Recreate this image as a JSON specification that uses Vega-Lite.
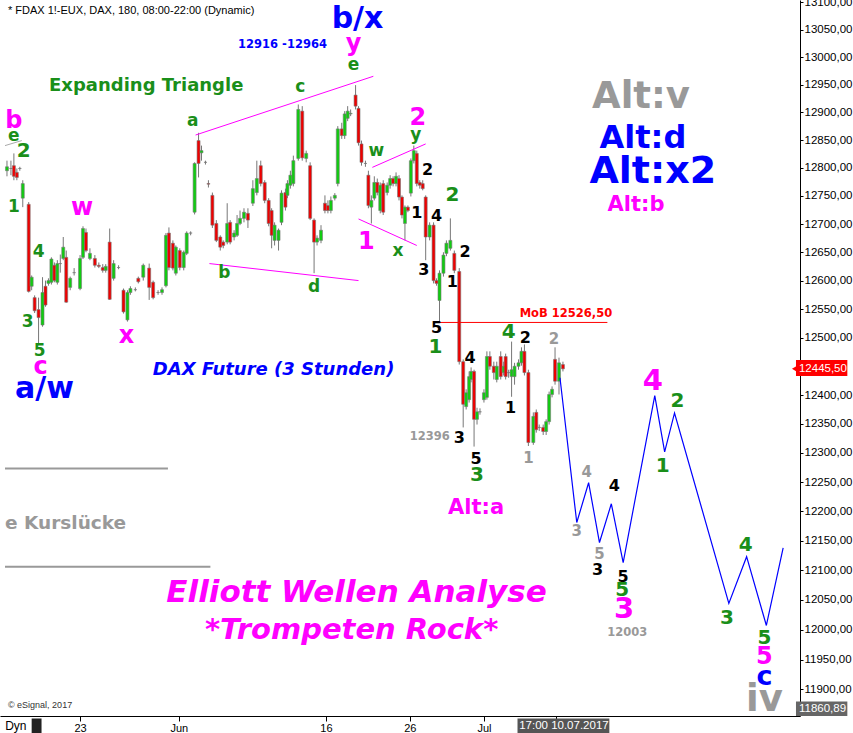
{
"$schema": "https://vega.github.io/schema/vega-lite/v6.json",
"width": 800, "height": 716,
"autosize": {"type": "none"},
"padding": {"left": 0, "top": 0, "right": 53, "bottom": 17},
"background": "white",
"config": {"view": {"stroke": null}},
"resolve": {"axis": {"y": "independent"}},
"datasets": {
"candles": [
{"t":2,"o":12795,"h":12813,"l":12785,"c":12802},{"t":6,"o":12799,"h":12813,"l":12787,"c":12799},{"t":9,"o":12804,"h":12826,"l":12778,"c":12785},{"t":12,"o":12792,"h":12799,"l":12778,"c":12783},{"t":15,"o":12799,"h":12802,"l":12795,"c":12799},{"t":18,"o":12746,"h":12778,"l":12730,"c":12772},{"t":24,"o":12735,"h":12739,"l":12579,"c":12581},{"t":27,"o":12590,"h":12609,"l":12583,"c":12606},{"t":30,"o":12570,"h":12574,"l":12543,"c":12547},{"t":34,"o":12549,"h":12570,"l":12488,"c":12535},
{"t":38,"o":12522,"h":12606,"l":12519,"c":12579},{"t":41,"o":12590,"h":12600,"l":12554,"c":12557},{"t":44,"o":12595,"h":12604,"l":12591,"c":12600},{"t":47,"o":12597,"h":12641,"l":12593,"c":12638},{"t":50,"o":12627,"h":12632,"l":12597,"c":12600},{"t":53,"o":12597,"h":12636,"l":12593,"c":12630},{"t":56,"o":12630,"h":12646,"l":12614,"c":12630},{"t":59,"o":12639,"h":12677,"l":12636,"c":12659},{"t":62,"o":12641,"h":12653,"l":12561,"c":12562},{"t":66,"o":12588,"h":12607,"l":12583,"c":12604},
{"t":70,"o":12614,"h":12622,"l":12609,"c":12614},{"t":76,"o":12586,"h":12645,"l":12583,"c":12639},{"t":79,"o":12641,"h":12696,"l":12638,"c":12692},{"t":82,"o":12685,"h":12692,"l":12650,"c":12653},{"t":86,"o":12639,"h":12657,"l":12636,"c":12648},{"t":91,"o":12639,"h":12645,"l":12623,"c":12627},{"t":95,"o":12627,"h":12632,"l":12622,"c":12625},{"t":99,"o":12623,"h":12629,"l":12614,"c":12618},{"t":102,"o":12618,"h":12629,"l":12614,"c":12625},{"t":106,"o":12668,"h":12692,"l":12566,"c":12567},
{"t":110,"o":12604,"h":12636,"l":12600,"c":12630},{"t":115,"o":12623,"h":12627,"l":12620,"c":12623},{"t":120,"o":12583,"h":12586,"l":12542,"c":12545},{"t":124,"o":12531,"h":12583,"l":12528,"c":12579},{"t":127,"o":12579,"h":12590,"l":12575,"c":12586},{"t":132,"o":12584,"h":12588,"l":12581,"c":12584},{"t":135,"o":12604,"h":12607,"l":12595,"c":12598},{"t":140,"o":12606,"h":12630,"l":12600,"c":12627},{"t":146,"o":12622,"h":12630,"l":12566,"c":12588},{"t":150,"o":12597,"h":12600,"l":12567,"c":12570},
{"t":155,"o":12579,"h":12583,"l":12575,"c":12579},{"t":159,"o":12579,"h":12588,"l":12575,"c":12584},{"t":163,"o":12591,"h":12684,"l":12588,"c":12680},{"t":166,"o":12684,"h":12694,"l":12618,"c":12623},{"t":170,"o":12666,"h":12671,"l":12618,"c":12622},{"t":173,"o":12613,"h":12662,"l":12609,"c":12659},{"t":177,"o":12653,"h":12657,"l":12618,"c":12623},{"t":181,"o":12623,"h":12653,"l":12618,"c":12650},{"t":184,"o":12648,"h":12687,"l":12645,"c":12684},{"t":188,"o":12684,"h":12687,"l":12680,"c":12684},
{"t":192,"o":12721,"h":12810,"l":12717,"c":12808},{"t":196,"o":12849,"h":12863,"l":12783,"c":12808},{"t":199,"o":12827,"h":12840,"l":12813,"c":12831},{"t":203,"o":12810,"h":12813,"l":12806,"c":12810},{"t":206,"o":12772,"h":12778,"l":12765,"c":12771},{"t":210,"o":12751,"h":12756,"l":12693,"c":12698},{"t":214,"o":12701,"h":12707,"l":12668,"c":12671},{"t":218,"o":12677,"h":12680,"l":12653,"c":12659},{"t":221,"o":12668,"h":12671,"l":12657,"c":12662},{"t":225,"o":12668,"h":12737,"l":12664,"c":12701},
{"t":228,"o":12703,"h":12707,"l":12664,"c":12668},{"t":232,"o":12677,"h":12689,"l":12671,"c":12684},{"t":235,"o":12680,"h":12716,"l":12677,"c":12701},{"t":238,"o":12701,"h":12724,"l":12698,"c":12710},{"t":242,"o":12710,"h":12728,"l":12703,"c":12721},{"t":246,"o":12719,"h":12728,"l":12693,"c":12707},{"t":251,"o":12737,"h":12778,"l":12732,"c":12763},{"t":255,"o":12756,"h":12813,"l":12751,"c":12781},{"t":259,"o":12804,"h":12813,"l":12767,"c":12772},{"t":263,"o":12774,"h":12778,"l":12737,"c":12742},
{"t":267,"o":12742,"h":12746,"l":12696,"c":12701},{"t":270,"o":12724,"h":12728,"l":12657,"c":12680},{"t":273,"o":12671,"h":12703,"l":12662,"c":12698},{"t":277,"o":12671,"h":12692,"l":12653,"c":12689},{"t":280,"o":12703,"h":12760,"l":12698,"c":12755},{"t":284,"o":12756,"h":12763,"l":12724,"c":12730},{"t":286,"o":12751,"h":12778,"l":12746,"c":12772},{"t":289,"o":12769,"h":12795,"l":12763,"c":12787},{"t":292,"o":12772,"h":12822,"l":12767,"c":12813},{"t":297,"o":12817,"h":12914,"l":12813,"c":12905},
{"t":301,"o":12902,"h":12911,"l":12813,"c":12818},{"t":305,"o":12817,"h":12831,"l":12810,"c":12826},{"t":309,"o":12804,"h":12810,"l":12707,"c":12710},{"t":313,"o":12707,"h":12710,"l":12613,"c":12668},{"t":316,"o":12668,"h":12680,"l":12662,"c":12675},{"t":320,"o":12671,"h":12698,"l":12666,"c":12689},{"t":324,"o":12737,"h":12751,"l":12719,"c":12724},{"t":327,"o":12733,"h":12742,"l":12719,"c":12724},{"t":330,"o":12724,"h":12749,"l":12719,"c":12742},{"t":334,"o":12746,"h":12755,"l":12742,"c":12751},
{"t":337,"o":12772,"h":12875,"l":12767,"c":12870},{"t":341,"o":12870,"h":12881,"l":12852,"c":12858},{"t":344,"o":12858,"h":12902,"l":12852,"c":12897},{"t":347,"o":12889,"h":12911,"l":12884,"c":12902},{"t":350,"o":12897,"h":12905,"l":12893,"c":12898},{"t":355,"o":12931,"h":12949,"l":12905,"c":12911},{"t":358,"o":12907,"h":12911,"l":12840,"c":12845},{"t":361,"o":12843,"h":12849,"l":12804,"c":12810},{"t":365,"o":12808,"h":12813,"l":12802,"c":12808},{"t":368,"o":12787,"h":12795,"l":12728,"c":12733},
{"t":371,"o":12730,"h":12751,"l":12701,"c":12742},{"t":374,"o":12746,"h":12785,"l":12742,"c":12774},{"t":377,"o":12774,"h":12781,"l":12751,"c":12756},{"t":380,"o":12724,"h":12774,"l":12719,"c":12769},{"t":383,"o":12772,"h":12778,"l":12716,"c":12721},{"t":387,"o":12756,"h":12774,"l":12751,"c":12769},{"t":390,"o":12769,"h":12787,"l":12763,"c":12781},{"t":393,"o":12781,"h":12785,"l":12767,"c":12772},{"t":396,"o":12772,"h":12792,"l":12767,"c":12785},{"t":399,"o":12781,"h":12787,"l":12742,"c":12748},
{"t":402,"o":12748,"h":12751,"l":12710,"c":12716},{"t":405,"o":12701,"h":12733,"l":12671,"c":12730},{"t":408,"o":12730,"h":12733,"l":12721,"c":12724},{"t":411,"o":12755,"h":12817,"l":12749,"c":12813},{"t":414,"o":12813,"h":12840,"l":12808,"c":12831},{"t":417,"o":12826,"h":12831,"l":12767,"c":12772},{"t":420,"o":12774,"h":12778,"l":12763,"c":12769},{"t":423,"o":12772,"h":12778,"l":12760,"c":12763},{"t":426,"o":12748,"h":12751,"l":12636,"c":12677},{"t":430,"o":12677,"h":12703,"l":12671,"c":12698},
{"t":434,"o":12698,"h":12703,"l":12595,"c":12600},{"t":437,"o":12600,"h":12604,"l":12591,"c":12595},{"t":440,"o":12565,"h":12618,"l":12528,"c":12613},{"t":444,"o":12613,"h":12650,"l":12607,"c":12645},{"t":447,"o":12648,"h":12671,"l":12643,"c":12666},{"t":451,"o":12657,"h":12710,"l":12653,"c":12671},{"t":455,"o":12648,"h":12653,"l":12613,"c":12618},{"t":460,"o":12616,"h":12622,"l":12453,"c":12458},{"t":464,"o":12458,"h":12462,"l":12344,"c":12384},{"t":467,"o":12380,"h":12410,"l":12375,"c":12404},
{"t":470,"o":12392,"h":12441,"l":12387,"c":12432},{"t":472,"o":12427,"h":12448,"l":12422,"c":12441},{"t":475,"o":12441,"h":12444,"l":12311,"c":12358},{"t":478,"o":12358,"h":12378,"l":12349,"c":12371},{"t":481,"o":12371,"h":12377,"l":12366,"c":12371},{"t":485,"o":12392,"h":12410,"l":12387,"c":12404},{"t":488,"o":12396,"h":12476,"l":12392,"c":12467},{"t":491,"o":12467,"h":12476,"l":12444,"c":12450},{"t":495,"o":12450,"h":12458,"l":12427,"c":12439},{"t":498,"o":12427,"h":12458,"l":12422,"c":12450},
{"t":502,"o":12467,"h":12476,"l":12427,"c":12432},{"t":505,"o":12439,"h":12458,"l":12434,"c":12450},{"t":507,"o":12467,"h":12472,"l":12427,"c":12432},{"t":510,"o":12439,"h":12444,"l":12430,"c":12439},{"t":513,"o":12432,"h":12493,"l":12397,"c":12444},{"t":516,"o":12432,"h":12456,"l":12418,"c":12450},{"t":520,"o":12450,"h":12462,"l":12444,"c":12456},{"t":523,"o":12456,"h":12483,"l":12451,"c":12476},{"t":526,"o":12476,"h":12488,"l":12434,"c":12439},{"t":530,"o":12439,"h":12444,"l":12312,"c":12318},
{"t":535,"o":12318,"h":12370,"l":12314,"c":12363},{"t":538,"o":12370,"h":12375,"l":12335,"c":12340},{"t":541,"o":12344,"h":12349,"l":12338,"c":12344},{"t":545,"o":12344,"h":12349,"l":12331,"c":12337},{"t":548,"o":12337,"h":12358,"l":12331,"c":12354},{"t":551,"o":12354,"h":12406,"l":12349,"c":12401},{"t":554,"o":12401,"h":12415,"l":12396,"c":12410},{"t":557,"o":12462,"h":12483,"l":12418,"c":12424},{"t":561,"o":12424,"h":12465,"l":12401,"c":12456},{"t":565,"o":12453,"h":12458,"l":12441,"c":12445.5}
],
"proj": [{"t":562,"p":12430},{"t":579,"p":12181},{"t":591,"p":12249},{"t":602,"p":12147},{"t":614,"p":12213},{"t":626,"p":12113},{"t":658,"p":12399},{"t":668,"p":12302},{"t":678,"p":12369},{"t":733,"p":12044},{"t":751,"p":12123},{"t":771,"p":12007},{"t":788,"p":12138}],
"pink": [{"t":193,"t2":373,"p":12859,"p2":12965},{"t":207,"t2":358,"p":12630,"p2":12600},{"t":372,"t2":426,"p":12801,"p2":12843},{"t":358,"t2":417,"p":12709,"p2":12662}],
"grayTrend": [{"t":0,"t2":17,"p":12840,"p2":12849}],
"mob": [{"t":440,"t2":610,"p":12526.5}],
"gap": [{"t":0,"t2":165,"p":12273.5},{"t":0,"t2":208,"p":12106}],
"gS": [{"t":353,"p":12985,"s":"e"},{"t":299,"p":12945,"s":"c"},{"t":190,"p":12884,"s":"a"},{"t":9,"p":12857,"s":"e"},{"t":376,"p":12831,"s":"w"},{"t":416,"p":12859,"s":"y"},{"t":398,"p":12653,"s":"x"},{"t":222,"p":12614,"s":"b"},{"t":313,"p":12588,"s":"d"},{"t":9,"p":12730,"s":"1"},{"t":34,"p":12650,"s":"4"},{"t":23,"p":12528,"s":"3"},{"t":35,"p":12476,"s":"5"}],
"gL": [{"t":19,"p":12831,"s":"2"},{"t":453,"p":12751,"s":"2"},{"t":436,"p":12484,"s":"1"},{"t":510,"p":12510,"s":"4"},{"t":478,"p":12262,"s":"3"},{"t":681,"p":12390,"s":"2"},{"t":666,"p":12277,"s":"1"},{"t":625,"p":12066,"s":"5"},{"t":750,"p":12143,"s":"4"},{"t":731,"p":12020,"s":"3"},{"t":769,"p":11986,"s":"5"}],
"mS": [{"t":9,"p":12884,"s":"b"},{"t":353,"p":13023,"s":"y"},{"t":418,"p":12889,"s":"2"},{"t":366,"p":12668,"s":"1"},{"t":78,"p":12728,"s":"w"},{"t":123,"p":12502,"s":"x"},{"t":36,"p":12448,"s":"c"},{"t":769,"p":11955,"s":"5"}],
"mL": [{"t":656,"p":12425,"s":"4"},{"t":627,"p":12034,"s":"3"}],
"mAlt": [{"t":477,"p":12206,"s":"Alt:a"},{"t":639,"p":12733,"s":"Alt:b"}],
"k": [{"t":428,"p":12797,"s":"2"},{"t":417,"p":12719,"s":"1"},{"t":437,"p":12714,"s":"4"},{"t":424,"p":12618,"s":"3"},{"t":453,"p":12598,"s":"1"},{"t":466,"p":12650,"s":"2"},{"t":437,"p":12517,"s":"5"},{"t":527,"p":12500,"s":"2"},{"t":471,"p":12465,"s":"4"},{"t":512,"p":12378,"s":"1"},{"t":460,"p":12326,"s":"3"},{"t":477,"p":12289,"s":"5"},{"t":617,"p":12243,"s":"4"},{"t":600,"p":12101,"s":"3"},{"t":626,"p":12089,"s":"5"}],
"gy": [{"t":556,"p":12498,"s":"2"},{"t":530,"p":12291,"s":"1"},{"t":589,"p":12268,"s":"4"},{"t":579,"p":12166,"s":"3"},{"t":602,"p":12128,"s":"5"}],
"gyN": [{"t":430,"p":12328,"s":"12396"},{"t":630,"p":11995,"s":"12003"}],
"bBig": [{"t":357,"p":13070,"s":"b/x"},{"t":40,"p":12410,"s":"a/w"}],
"bC": [{"t":769,"p":11921,"s":"c"}],
"altd": [{"t":646,"p":12854,"s":"Alt:d"}],
"altx": [{"t":656,"p":12792,"s":"Alt:x2"}],
"zone": [{"t":281,"p":13021,"s":"12916 -12964"}],
"dax": [{"t":272,"p":12444,"s":"DAX Future (3 Stunden)"}],
"grayBig": [{"t":644,"p":12927,"s":"Alt:v"},{"t":769,"p":11882,"s":"iv"}],
"expand": [{"t":143,"p":12947,"s":"Expanding Triangle"}],
"ew1": [{"t":356,"p":12061,"s":"Elliott Wellen Analyse"}],
"ew2": [{"t":351,"p":12000,"s":"*Trompeten Rock*"}],
"kurs": [{"t":0,"p":12180,"s":"e Kurslücke"}],
"title": [{"t":3,"p":13084,"s":"* FDAX 1!-EUX, DAX, 180, 08:00-22:00 (Dynamic)"}],
"copy": [{"t":3,"p":11875,"s":"© eSignal, 2017"}],
"mobText": [{"t":568,"p":12542,"s":"MoB 12526,50"}],
"dateBox": [{"t":519,"t2":612,"p":11852,"p2":11827}],
"dateText": [{"t":566,"p":11839,"s":"17:00 10.07.2017"}],
"dyn": [{"t":11,"p":11839,"s":"Dyn"}],
"dynBox": [{"t":27,"t2":37,"p":11852,"p2":11828}],
"redTag": [{"t":801,"t2":853,"p":12461,"p2":12433}],
"redTagText": [{"t":804,"p":12446,"s":"12445,50"}],
"redTip": [{"t":800,"p":12445.5}],
"grayTag": [{"t":801,"t2":853,"p":11880,"p2":11856}],
"grayTagText": [{"t":804,"p":11867,"s":"11860,89"}]
},
"encoding": {
"x": {"field": "t", "type": "quantitative", "scale": {"domain": [0, 800], "nice": false, "zero": false},
"axis": {"values": [76, 176, 325, 410, 485, 558], "labelExpr": "datum.value==76?'23':datum.value==176?'Jun':datum.value==325?'16':datum.value==410?'26':datum.value==485?'Jul':''", "title": null, "grid": false, "tickSize": 5, "tickColor": "#000", "domainColor": "#000", "labelColor": "#000", "labelFont": "Liberation Sans", "labelFontSize": 11, "labelPadding": 1, "labelFlush": false, "labelOverlap": false}}
},
"layer": [
{"data": {"name": "candles"}, "mark": {"type": "rule", "color": "#777777", "strokeWidth": 1},
 "encoding": {"y": {"field": "l", "type": "quantitative", "scale": {"type": "log", "domain": [11856, 13104], "nice": false, "zero": false},
   "axis": {"orient": "right", "values": [11900,11950,12000,12050,12100,12150,12200,12250,12300,12350,12400,12450,12500,12550,12600,12650,12700,12750,12800,12850,12900,12950,13000,13050,13100], "labelExpr": "datum.value==12450?'':replace(format(datum.value,'.2f'),'.',',')", "title": null, "grid": false, "tickSize": 3, "tickColor": "#000", "domainColor": "#000", "labelColor": "#000", "labelFont": "Liberation Sans", "labelFontSize": 11.5, "labelPadding": 1, "labelOverlap": false, "labelFlush": false}},
  "y2": {"field": "h"}}},
{"data": {"name": "candles"}, "mark": {"type": "bar", "size": 3, "stroke": "#777777", "strokeWidth": 0.6},
 "encoding": {"y": {"field": "o", "type": "quantitative", "scale": {"type": "log", "domain": [11856, 13104], "nice": false, "zero": false}, "axis": null},
  "y2": {"field": "c"},
  "fill": {"condition": [{"test": "datum.c < datum.o", "value": "#ee0000"}, {"test": "datum.c > datum.o", "value": "#11cc11"}], "value": "#777777"}}},
{"data": {"name": "pink"}, "mark": {"type": "rule", "color": "#ff00ff", "strokeWidth": 1},
 "encoding": {"x2": {"field": "t2"}, "y": {"field": "p", "type": "quantitative", "scale": {"type": "log"}, "axis": null}, "y2": {"field": "p2"}}},
{"data": {"name": "grayTrend"}, "mark": {"type": "rule", "color": "#aaaaaa", "strokeWidth": 1},
 "encoding": {"x2": {"field": "t2"}, "y": {"field": "p", "type": "quantitative", "scale": {"type": "log"}, "axis": null}, "y2": {"field": "p2"}}},
{"data": {"name": "mob"}, "mark": {"type": "rule", "color": "#ff0000", "strokeWidth": 1},
 "encoding": {"x2": {"field": "t2"}, "y": {"field": "p", "type": "quantitative", "scale": {"type": "log"}, "axis": null}}},
{"data": {"name": "gap"}, "mark": {"type": "rule", "color": "#999999", "strokeWidth": 2},
 "encoding": {"x2": {"field": "t2"}, "y": {"field": "p", "type": "quantitative", "scale": {"type": "log"}, "axis": null}}},
{"data": {"name": "proj"}, "mark": {"type": "line", "color": "#0000ff", "strokeWidth": 1.2},
 "encoding": {"y": {"field": "p", "type": "quantitative", "scale": {"type": "log"}, "axis": null}}},
{"data": {"name": "gS"}, "mark": {"type": "text", "font": "DejaVu Sans", "fontWeight": "bold", "fontSize": 17, "color": "#1a8f1a", "align": "center", "baseline": "middle"},
 "encoding": {"y": {"field": "p", "type": "quantitative", "scale": {"type": "log"}, "axis": null}, "text": {"field": "s"}}},
{"data": {"name": "gL"}, "mark": {"type": "text", "font": "DejaVu Sans", "fontWeight": "bold", "fontSize": 20, "color": "#1a8f1a", "align": "center", "baseline": "middle"},
 "encoding": {"y": {"field": "p", "type": "quantitative", "scale": {"type": "log"}, "axis": null}, "text": {"field": "s"}}},
{"data": {"name": "mS"}, "mark": {"type": "text", "font": "DejaVu Sans", "fontWeight": "bold", "fontSize": 24, "color": "#ff00ff", "align": "center", "baseline": "middle"},
 "encoding": {"y": {"field": "p", "type": "quantitative", "scale": {"type": "log"}, "axis": null}, "text": {"field": "s"}}},
{"data": {"name": "mL"}, "mark": {"type": "text", "font": "DejaVu Sans", "fontWeight": "bold", "fontSize": 29, "color": "#ff00ff", "align": "center", "baseline": "middle"},
 "encoding": {"y": {"field": "p", "type": "quantitative", "scale": {"type": "log"}, "axis": null}, "text": {"field": "s"}}},
{"data": {"name": "mAlt"}, "mark": {"type": "text", "font": "DejaVu Sans", "fontWeight": "bold", "fontSize": 21, "color": "#ff00ff", "align": "center", "baseline": "middle"},
 "encoding": {"y": {"field": "p", "type": "quantitative", "scale": {"type": "log"}, "axis": null}, "text": {"field": "s"}}},
{"data": {"name": "k"}, "mark": {"type": "text", "font": "DejaVu Sans", "fontWeight": "bold", "fontSize": 16, "color": "#000000", "align": "center", "baseline": "middle"},
 "encoding": {"y": {"field": "p", "type": "quantitative", "scale": {"type": "log"}, "axis": null}, "text": {"field": "s"}}},
{"data": {"name": "gy"}, "mark": {"type": "text", "font": "DejaVu Sans", "fontWeight": "bold", "fontSize": 15, "color": "#999999", "align": "center", "baseline": "middle"},
 "encoding": {"y": {"field": "p", "type": "quantitative", "scale": {"type": "log"}, "axis": null}, "text": {"field": "s"}}},
{"data": {"name": "gyN"}, "mark": {"type": "text", "font": "DejaVu Sans", "fontWeight": "bold", "fontSize": 11.5, "color": "#999999", "align": "center", "baseline": "middle"},
 "encoding": {"y": {"field": "p", "type": "quantitative", "scale": {"type": "log"}, "axis": null}, "text": {"field": "s"}}},
{"data": {"name": "bBig"}, "mark": {"type": "text", "font": "DejaVu Sans", "fontWeight": "bold", "fontSize": 30, "color": "#0000ff", "align": "center", "baseline": "middle"},
 "encoding": {"y": {"field": "p", "type": "quantitative", "scale": {"type": "log"}, "axis": null}, "text": {"field": "s"}}},
{"data": {"name": "bC"}, "mark": {"type": "text", "font": "DejaVu Sans", "fontWeight": "bold", "fontSize": 27, "color": "#0000ff", "align": "center", "baseline": "middle"},
 "encoding": {"y": {"field": "p", "type": "quantitative", "scale": {"type": "log"}, "axis": null}, "text": {"field": "s"}}},
{"data": {"name": "altd"}, "mark": {"type": "text", "font": "DejaVu Sans", "fontWeight": "bold", "fontSize": 32, "color": "#0000ff", "align": "center", "baseline": "middle"},
 "encoding": {"y": {"field": "p", "type": "quantitative", "scale": {"type": "log"}, "axis": null}, "text": {"field": "s"}}},
{"data": {"name": "altx"}, "mark": {"type": "text", "font": "DejaVu Sans", "fontWeight": "bold", "fontSize": 38, "color": "#0000ff", "align": "center", "baseline": "middle"},
 "encoding": {"y": {"field": "p", "type": "quantitative", "scale": {"type": "log"}, "axis": null}, "text": {"field": "s"}}},
{"data": {"name": "zone"}, "mark": {"type": "text", "font": "DejaVu Sans", "fontWeight": "bold", "fontSize": 11.5, "color": "#0000ff", "align": "center", "baseline": "middle"},
 "encoding": {"y": {"field": "p", "type": "quantitative", "scale": {"type": "log"}, "axis": null}, "text": {"field": "s"}}},
{"data": {"name": "dax"}, "mark": {"type": "text", "font": "DejaVu Sans", "fontWeight": "bold", "fontStyle": "italic", "fontSize": 18, "color": "#0000ff", "align": "center", "baseline": "middle"},
 "encoding": {"y": {"field": "p", "type": "quantitative", "scale": {"type": "log"}, "axis": null}, "text": {"field": "s"}}},
{"data": {"name": "grayBig"}, "mark": {"type": "text", "font": "DejaVu Sans", "fontWeight": "bold", "fontSize": 37, "color": "#999999", "align": "center", "baseline": "middle"},
 "encoding": {"y": {"field": "p", "type": "quantitative", "scale": {"type": "log"}, "axis": null}, "text": {"field": "s"}}},
{"data": {"name": "expand"}, "mark": {"type": "text", "font": "DejaVu Sans", "fontWeight": "bold", "fontSize": 18, "color": "#1a8f1a", "align": "center", "baseline": "middle"},
 "encoding": {"y": {"field": "p", "type": "quantitative", "scale": {"type": "log"}, "axis": null}, "text": {"field": "s"}}},
{"data": {"name": "ew1"}, "mark": {"type": "text", "font": "DejaVu Sans", "fontWeight": "bold", "fontStyle": "italic", "fontSize": 31, "color": "#ff00ff", "align": "center", "baseline": "middle"},
 "encoding": {"y": {"field": "p", "type": "quantitative", "scale": {"type": "log"}, "axis": null}, "text": {"field": "s"}}},
{"data": {"name": "ew2"}, "mark": {"type": "text", "font": "DejaVu Sans", "fontWeight": "bold", "fontStyle": "italic", "fontSize": 29, "color": "#ff00ff", "align": "center", "baseline": "middle"},
 "encoding": {"y": {"field": "p", "type": "quantitative", "scale": {"type": "log"}, "axis": null}, "text": {"field": "s"}}},
{"data": {"name": "kurs"}, "mark": {"type": "text", "font": "DejaVu Sans", "fontWeight": "bold", "fontSize": 18.5, "color": "#999999", "align": "left", "baseline": "middle"},
 "encoding": {"y": {"field": "p", "type": "quantitative", "scale": {"type": "log"}, "axis": null}, "text": {"field": "s"}}},
{"data": {"name": "title"}, "mark": {"type": "text", "font": "Liberation Sans", "fontSize": 11, "color": "#000000", "align": "left", "baseline": "middle"},
 "encoding": {"y": {"field": "p", "type": "quantitative", "scale": {"type": "log"}, "axis": null}, "text": {"field": "s"}}},
{"data": {"name": "copy"}, "mark": {"type": "text", "font": "Liberation Sans", "fontSize": 9, "color": "#333333", "align": "left", "baseline": "middle"},
 "encoding": {"y": {"field": "p", "type": "quantitative", "scale": {"type": "log"}, "axis": null}, "text": {"field": "s"}}},
{"data": {"name": "mobText"}, "mark": {"type": "text", "font": "DejaVu Sans", "fontWeight": "bold", "fontSize": 11.5, "color": "#ff0000", "align": "center", "baseline": "middle"},
 "encoding": {"y": {"field": "p", "type": "quantitative", "scale": {"type": "log"}, "axis": null}, "text": {"field": "s"}}},
{"data": {"name": "dateBox"}, "mark": {"type": "rect", "color": "#555555"},
 "encoding": {"x2": {"field": "t2"}, "y": {"field": "p", "type": "quantitative", "scale": {"type": "log"}, "axis": null}, "y2": {"field": "p2"}}},
{"data": {"name": "dateText"}, "mark": {"type": "text", "font": "Liberation Sans", "fontSize": 11.5, "color": "#ffffff", "align": "center", "baseline": "middle"},
 "encoding": {"y": {"field": "p", "type": "quantitative", "scale": {"type": "log"}, "axis": null}, "text": {"field": "s"}}},
{"data": {"name": "dynBox"}, "mark": {"type": "rect", "color": "#222222"},
 "encoding": {"x2": {"field": "t2"}, "y": {"field": "p", "type": "quantitative", "scale": {"type": "log"}, "axis": null}, "y2": {"field": "p2"}}},
{"data": {"name": "dyn"}, "mark": {"type": "text", "font": "Liberation Sans", "fontSize": 12, "color": "#000000", "align": "center", "baseline": "middle"},
 "encoding": {"y": {"field": "p", "type": "quantitative", "scale": {"type": "log"}, "axis": null}, "text": {"field": "s"}}},
{"data": {"name": "redTag"}, "mark": {"type": "rect", "color": "#ff0000"},
 "encoding": {"x2": {"field": "t2"}, "y": {"field": "p", "type": "quantitative", "scale": {"type": "log"}, "axis": null}, "y2": {"field": "p2"}}},
{"data": {"name": "redTip"}, "mark": {"type": "point", "shape": "triangle-left", "size": 50, "filled": true, "color": "#ff0000", "opacity": 1},
 "encoding": {"y": {"field": "p", "type": "quantitative", "scale": {"type": "log"}, "axis": null}}},
{"data": {"name": "redTagText"}, "mark": {"type": "text", "font": "Liberation Sans", "fontSize": 11.5, "color": "#ffffff", "align": "left", "baseline": "middle"},
 "encoding": {"y": {"field": "p", "type": "quantitative", "scale": {"type": "log"}, "axis": null}, "text": {"field": "s"}}},
{"data": {"name": "grayTag"}, "mark": {"type": "rect", "color": "#666666"},
 "encoding": {"x2": {"field": "t2"}, "y": {"field": "p", "type": "quantitative", "scale": {"type": "log"}, "axis": null}, "y2": {"field": "p2"}}},
{"data": {"name": "grayTagText"}, "mark": {"type": "text", "font": "Liberation Sans", "fontSize": 11.5, "color": "#ffffff", "align": "left", "baseline": "middle"},
 "encoding": {"y": {"field": "p", "type": "quantitative", "scale": {"type": "log"}, "axis": null}, "text": {"field": "s"}}}
]
}
